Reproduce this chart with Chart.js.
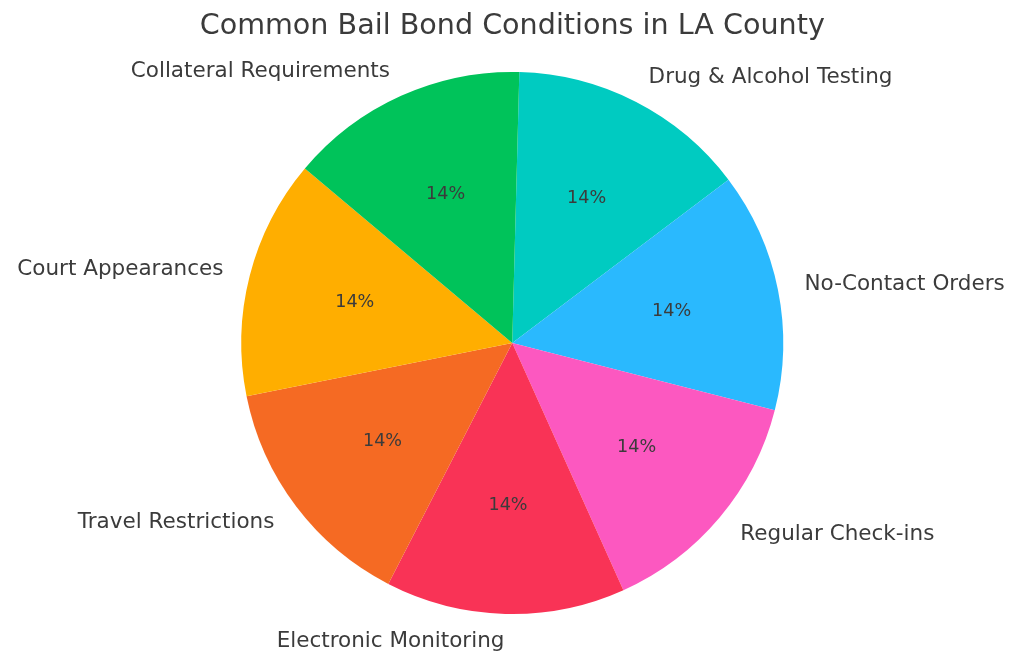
<!DOCTYPE html>
<html>
<head>
<meta charset="utf-8">
<style>html,body{margin:0;padding:0;background:#fff}canvas{display:block}</style>
<script src="https://cdn.jsdelivr.net/npm/chart.js@4"></script>
</head>
<body>
<canvas id="c" width="1024" height="664" style="width:1024px;height:664px"></canvas>
<script>
const chartTitle = "Common Bail Bond Conditions in LA County";
const categories = ["Drug & Alcohol Testing","No-Contact Orders","Regular Check-ins","Electronic Monitoring","Travel Restrictions","Court Appearances","Collateral Requirements"];
const shares = [14.3,14.3,14.3,14.3,14.3,14.3,14.3];
const percentLabels = ["14%","14%","14%","14%","14%","14%","14%"];
const sliceColors = ["#00CBC1","#2AB9FE","#FC58C0","#F93356","#F56A23","#FFAE00","#00C35A"];
const textColor = "#3b3b3b";
const fontFamily = "'DejaVu Sans', sans-serif";

const sliceLabels = {
  id: "sliceLabels",
  afterDatasetsDraw(chart) {
    const ctx = chart.ctx;
    const arcs = chart.getDatasetMeta(0).data;
    ctx.save();
    ctx.fillStyle = textColor;
    ctx.textBaseline = "middle";
    arcs.forEach((arc, i) => {
      const mid = (arc.startAngle + arc.endAngle) / 2;
      const c = Math.cos(mid), s = Math.sin(mid), r = arc.outerRadius;
      ctx.font = "17.6px " + fontFamily;
      ctx.textAlign = "center";
      ctx.fillText(percentLabels[i], arc.x + 0.6 * r * c, arc.y + 0.6 * r * s);
      ctx.font = "21.5px " + fontFamily;
      ctx.textAlign = c >= 0 ? "left" : "right";
      ctx.fillText(categories[i], arc.x + 1.1 * r * c, arc.y + 1.1 * r * s);
    });
    ctx.restore();
  }
};

new Chart(document.getElementById("c"), {
  type: "pie",
  data: { labels: categories, datasets: [{ data: shares, backgroundColor: sliceColors, borderWidth: 0 }] },
  options: {
    responsive: false,
    animation: false,
    rotation: 1.5,
    layout: { padding: { top: 0, bottom: 50, left: 0.5, right: 0 } },
    plugins: {
      legend: { display: false },
      tooltip: { enabled: false },
      title: {
        display: true,
        text: chartTitle,
        color: textColor,
        font: { family: fontFamily, size: 28.6, weight: "normal", lineHeight: 1.2 },
        padding: { top: 9, bottom: 28.7 }
      }
    }
  },
  plugins: [sliceLabels, {
    id: "bg",
    beforeDraw(chart) {
      chart.ctx.save();
      chart.ctx.fillStyle = "#ffffff";
      chart.ctx.fillRect(0, 0, chart.width, chart.height);
      chart.ctx.restore();
    }
  }]
});
</script>
</body>
</html>
